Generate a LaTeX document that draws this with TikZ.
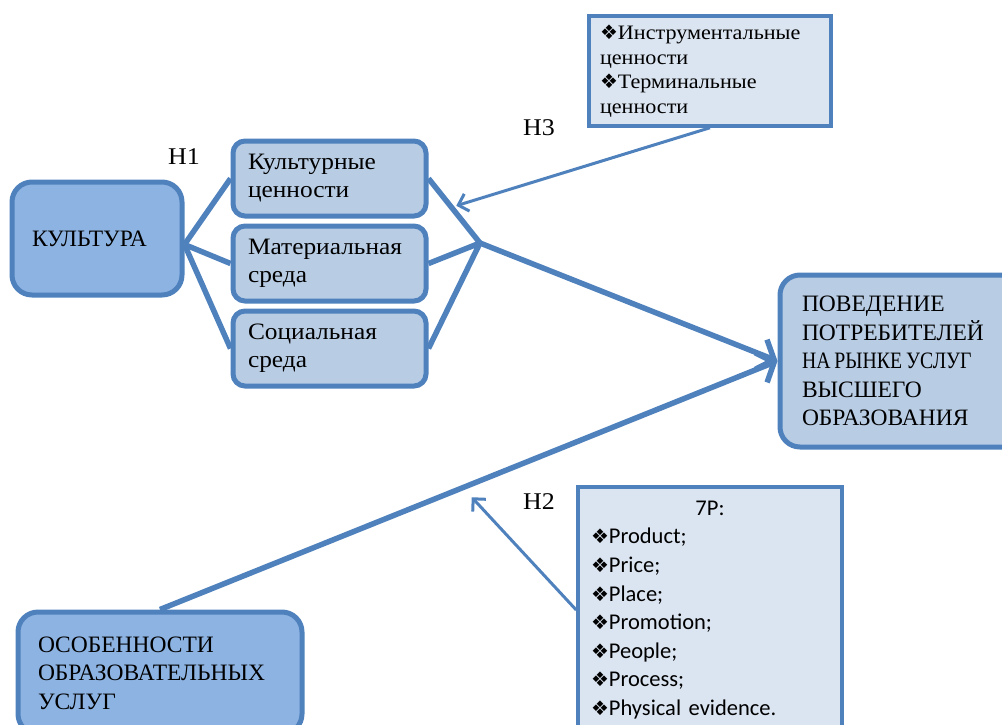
\documentclass[tikz,border=0pt]{standalone}
\usepackage{fontspec}
\setmainfont[FakeStretch=1.08]{Liberation Serif}
\newfontfamily\capfont{Liberation Serif}
\newfontfamily\narrowfont[FakeStretch=0.84]{Liberation Serif}
\newfontfamily\calfont{Carlito}
\newfontfamily\symfont{DejaVu Sans}
\usetikzlibrary{positioning, arrows.meta, calc}
\definecolor{edge}{HTML}{4F81BD}
\definecolor{fdark}{HTML}{8DB3E2}
\definecolor{fmid}{HTML}{B8CCE4}
\definecolor{flight}{HTML}{DBE5F1}
\newcommand{\bul}{{\symfont\fontsize{20}{20}\selectfont\char"2756}}

\begin{document}
\begin{tikzpicture}[x=1pt, y=-1pt,
  box/.style={draw=edge, line width=5pt, rounded corners=20pt, align=left, inner ysep=2pt,
              font=\capfont\fontsize{23.5}{28.5}\selectfont},
  main/.style={box, fill=fdark},
  sub/.style={box, fill=fmid, rounded corners=12pt, minimum height=75pt, text width=163pt, inner xsep=15pt,
              font=\fontsize{23.5}{28}\selectfont},
  note/.style={draw=edge, line width=3.5pt, fill=flight, align=left, inner ysep=2pt},
  link/.style={draw=edge, line width=5.5pt},
  tip/.style={-{Straight Barb[length=14pt, width=32pt]}},
  hyp/.style={draw=edge, line width=3pt, -{Straight Barb[length=9pt, width=18pt]}},
  lbl/.style={font=\fontsize{24}{24}\selectfont}]
  \useasboundingbox (0,0) rectangle (1002,724);
  \node[main, minimum width=170pt, minimum height=113pt, text width=130pt, inner xsep=20pt] (kult) at (97,238.5) {КУЛЬТУРА};
  \node[sub] (cval) at (329.5,178.5) {Культурные\\ценности};
  \node[sub, below=5pt of cval] (menv) {Материальная\\среда};
  \node[sub, below=5pt of menv] (senv) {Социальная\\среда};
  \node[main, fill=fmid, minimum width=226pt, minimum height=172pt, text width=200pt, inner xsep=22pt] (beh) at (902,361)
    {ПОВЕДЕНИЕ\\ПОТРЕБИТЕЛЕЙ\\{\narrowfont НА\hspace{4pt}РЫНКЕ\hspace{4pt}УСЛУГ}\\ВЫСШЕГО\\ОБРАЗОВАНИЯ};
  \node[main, minimum width=284pt, minimum height=122pt, text width=244pt, inner xsep=20pt] (feat) at (160,673)
    {ОСОБЕННОСТИ\\ОБРАЗОВАТЕЛЬНЫХ\\УСЛУГ};
  \node[note, minimum width=242pt, minimum height=110pt, text width=220pt, inner xsep=11pt,
        font=\fontsize{20.5}{24.5}\selectfont] (vals) at (710,71)
    {\bul Инструментальные\\ценности\\\bul Терминальные\\ценности};
  \node[note, minimum width=264pt, minimum height=246pt, text width=238pt, inner xsep=13pt,
        font=\calfont\fontsize{22.5}{28.6}\selectfont] (mix) at (710,610)
    {\makebox[238pt]{7P:}\\\bul Product;\\\bul Price;\\\bul Place;\\\bul Promotion;\\\bul People;\\\bul Process;\\\bul Physical evidence.};
  \node[lbl] (h1) at (184,157) {H1};
  \node[lbl] (h3) at (539,128) {H3};
  \node[lbl] (h2) at (539,502) {H2};
  \coordinate (junc) at (480,243);
  \draw[link] ([yshift=-6pt]kult.east) -- (cval.west);
  \draw[link] ([yshift=-6pt]kult.east) -- (menv.west);
  \draw[link] ([yshift=-6pt]kult.east) -- (senv.west);
  \draw[link] (cval.east) -- (junc) (menv.east) -- (junc) (senv.east) -- (junc);
  \draw[link, tip] (junc) -- (beh.west);
  \draw[link, tip] (feat.north) -- (beh.west);
  \draw[hyp] (vals.south) -- ($(cval.east)!0.5!(junc)+(2,-5)$);
  \draw[hyp] (mix.west) -- ($(feat.north)!0.5!(beh.west)+(3,12)$);
\end{tikzpicture}
\end{document}
